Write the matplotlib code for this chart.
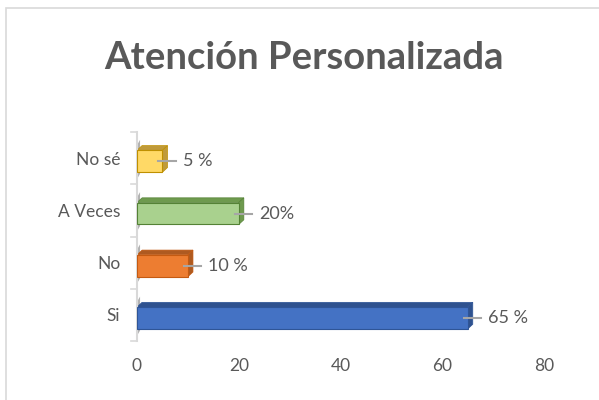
import matplotlib.pyplot as plt
from matplotlib.patches import Polygon, Rectangle
from matplotlib.lines import Line2D

categories = ['Si', 'No', 'A Veces', 'No sé']
values = [65, 10, 20, 5]
labels = ['65 %', '10 %', '20%', '5 %']
face_colors = ['#4472C4', '#ED7D31', '#A9D18E', '#FFD966']
edge_colors = ['#2F5597', '#C55A11', '#548235', '#BF9000']
side_colors = ['#2F528F', '#AE5A21', '#6E9A4E', '#BF9A3A']

plt.rcParams['font.family'] = ['Lato', 'DejaVu Sans']
text_color = '#595959'

fig = plt.figure(figsize=(5.99, 4), dpi=100)
fig.add_artist(Rectangle((6 / 599, -0.1), 1.2, 1.1 - 8 / 400, transform=fig.transFigure,
                         fill=False, edgecolor='#D9D9D9', linewidth=1.2))
fig.text(0.508, 0.855, 'Atención Personalizada', ha='center', va='center',
         fontsize=27.5, fontweight='bold', color=text_color)

ax = fig.add_axes([137 / 599, 59 / 400, 407 / 599, 209 / 400])
h = 0.42
dx, dy = 1.0, 0.09
off = 0.06
ypos = range(len(categories))
bars = ax.barh([y - off for y in ypos], values, height=h, color=face_colors,
               edgecolor=edge_colors, linewidth=0.8, zorder=3)
for i, v in enumerate(values):
    y0 = i - h / 2 - off
    y1 = i + h / 2 - off
    # top face
    ax.add_patch(Polygon([(0, y1), (v, y1), (v + dx, y1 + dy), (dx, y1 + dy)],
                         closed=True, facecolor=side_colors[i], edgecolor=edge_colors[i],
                         linewidth=0.5, zorder=2))
    # right face
    ax.add_patch(Polygon([(v, y0), (v + dx, y0 + dy), (v + dx, y1 + dy), (v, y1)],
                         closed=True, facecolor=side_colors[i], edgecolor=edge_colors[i],
                         linewidth=0.5, zorder=2))
    # wall shadow
    ax.add_patch(Polygon([(0, i - 0.4), (dx * 0.6, i - 0.3), (dx * 0.6, i + 0.35), (0, i + 0.25)],
                         closed=True, facecolor='#7F7F7F', edgecolor='none', alpha=0.6, zorder=1))
    ax.add_line(Line2D([v - 0.8, v + 2.6], [i - off, i - off], color='#A6A6A6',
                       linewidth=1.5, zorder=4))
    ax.text(v + 4.0, i - off, labels[i], va='center', ha='left', fontsize=13, color=text_color)

ax.set_xlim(0, 80)
ax.set_ylim(-0.5, 3.5)
ax.set_yticks(list(ypos))
ax.set_yticklabels(categories)
ax.set_xticks([0, 20, 40, 60, 80])
ax.tick_params(axis='y', length=0, pad=12, labelsize=12.5, labelcolor=text_color)
ax.tick_params(axis='x', length=0, pad=12, labelsize=12.5, labelcolor=text_color)
for s in ['top', 'right', 'bottom']:
    ax.spines[s].set_visible(False)
ax.spines['left'].set_color('#D9D9D9')
ax.spines['left'].set_linewidth(1.5)
for yb in [-0.5, 0.5, 1.5, 2.5, 3.5]:
    ax.add_line(Line2D([-1.2, 0], [yb, yb], color='#D9D9D9', linewidth=1.2, clip_on=False))

fig.savefig('out.png', dpi=100)
